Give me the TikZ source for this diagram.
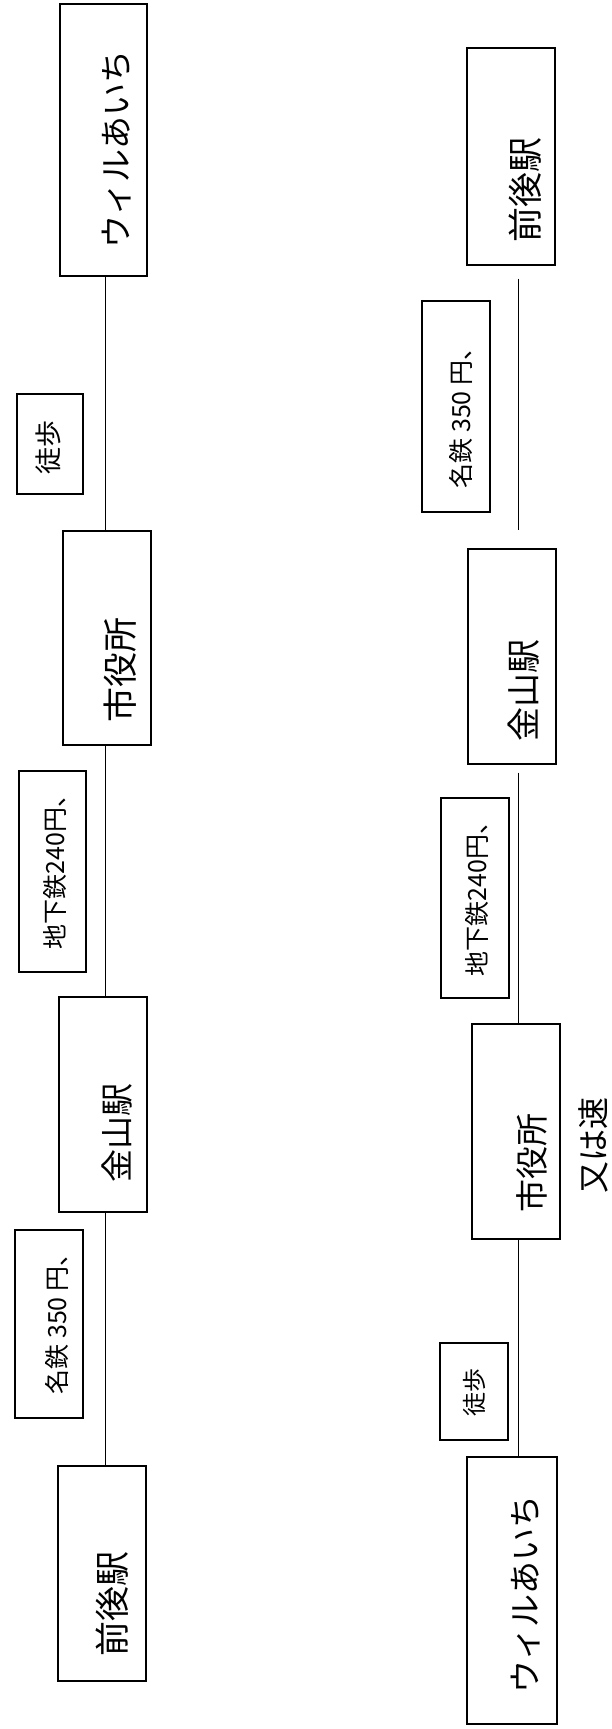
\documentclass[tikz,border=0pt]{standalone}
\usepackage{fontspec}
\newfontfamily\jp{Noto Sans CJK JP}
\begin{document}
\begin{tikzpicture}[x=1pt,y=-1pt,
  box/.style={draw, line width=1.1pt, inner sep=0pt},
  lbl/.style={rotate=90, inner sep=0pt, font=\jp},
  conn/.style={line width=0.9pt}]
\useasboundingbox (0,0) rectangle (611,1729);
\fill[white] (0,0) rectangle (611,1729);
% ---- left column boxes
\node[box, minimum width=87pt, minimum height=272pt] (L1) at (103.5,140) {};
\node[box, minimum width=66pt, minimum height=100pt] (L2) at (50,444) {};
\node[box, minimum width=88pt, minimum height=214pt] (L3) at (107,638) {};
\node[box, minimum width=67pt, minimum height=201pt] (L4) at (52.5,871.5) {};
\node[box, minimum width=88pt, minimum height=215pt] (L5) at (103,1104.5) {};
\node[box, minimum width=68pt, minimum height=188pt] (L6) at (49,1324) {};
\node[box, minimum width=88pt, minimum height=215pt] (L7) at (102,1573.5) {};
% ---- right column boxes
\node[box, minimum width=88pt, minimum height=217pt] (R1) at (511,156.5) {};
\node[box, minimum width=68pt, minimum height=211pt] (R2) at (456,406.5) {};
\node[box, minimum width=88pt, minimum height=215pt] (R3) at (512,656.5) {};
\node[box, minimum width=68pt, minimum height=200pt] (R4) at (475,898) {};
\node[box, minimum width=88pt, minimum height=215pt] (R5) at (516,1131.5) {};
\node[box, minimum width=68pt, minimum height=97pt] (R6) at (474,1391.5) {};
\node[box, minimum width=90pt, minimum height=267pt] (R7) at (512,1590.5) {};
% ---- texts left
\node[lbl, font=\jp\fontsize{33}{33}\selectfont] (tL1) at (117,149) {ウィルあいち};
\node[lbl, font=\jp\fontsize{27}{27}\selectfont] (tL2) at (48,447) {徒歩};
\node[lbl, font=\jp\fontsize{35}{35}\selectfont] (tL3) at (120,670) {市役所};
\node[lbl, font=\jp\fontsize{25}{25}\selectfont] (tL4) at (55,866) {地下鉄240円、};
\node[lbl, font=\jp\fontsize{33}{33}\selectfont] (tL5) at (117,1133) {金山駅};
\node[lbl, font=\jp\fontsize{25}{25}\selectfont] (tL6) at (57,1318) {名鉄 350 円、};
\node[lbl, font=\jp\fontsize{35}{35}\selectfont] (tL7) at (112,1604) {前後駅};
% ---- texts right
\node[lbl, font=\jp\fontsize{35}{35}\selectfont] (tR1) at (525,190) {前後駅};
\node[lbl, font=\jp\fontsize{25}{25}\selectfont] (tR2) at (461,412) {名鉄 350 円、};
\node[lbl, font=\jp\fontsize{34}{34}\selectfont] (tR3) at (524,690) {金山駅};
\node[lbl, font=\jp\fontsize{25}{25}\selectfont] (tR4) at (477,893) {地下鉄240円、};
\node[lbl, font=\jp\fontsize{33}{33}\selectfont] (tR5) at (532,1163) {市役所};
\node[lbl, font=\jp\fontsize{24}{24}\selectfont] (tR6) at (474,1392) {徒歩};
\node[lbl, font=\jp\fontsize{33}{33}\selectfont] (tR7) at (526,1594) {ウィルあいち};
% ---- handwritten note
\node[lbl, font=\jp\fontsize{32}{32}\selectfont] (note) at (593,1145) {又は速};
% ---- connectors
\coordinate (colL) at (105.5,0);
\coordinate (colR) at (518,0);
\draw[conn] (L1.south -| colL) -- (L3.north -| colL);
\draw[conn] (L3.south -| colL) -- (L5.north -| colL);
\draw[conn] (L5.south -| colL) -- (L7.north -| colL);
\draw[conn, shorten <=13pt, shorten >=18pt] (R1.south -| colR) -- (R3.north -| colR);
\draw[conn, shorten <=8pt] (R3.south -| colR) -- (R5.north -| colR);
\draw[conn] (R5.south -| colR) -- (R7.north -| colR);
\end{tikzpicture}
\end{document}
